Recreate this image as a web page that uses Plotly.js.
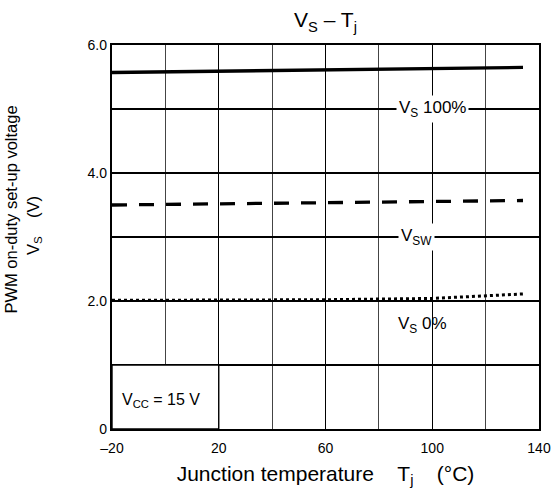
<!DOCTYPE html>
<html><head><meta charset="utf-8">
<script src="https://cdn.plot.ly/plotly-3.0.1.min.js"></script>
<style>body{margin:0;background:#fff;}</style>
</head><body>
<div id="chart" style="width:554px;height:502px;"></div>
<script>
// Data
const tempVs100 = [-20, 0, 20, 60, 100, 134];
const vs100 = [5.57, 5.58, 5.59, 5.61, 5.63, 5.65];
const tempVsw = [-20, 20, 60, 100, 134];
const vsw = [3.50, 3.52, 3.54, 3.56, 3.57];
const tempVs0 = [-20, 20, 60, 100, 120, 134];
const vs0 = [2.01, 2.01, 2.02, 2.04, 2.08, 2.11];
const xTickVals = [-20, 20, 60, 100, 140];
const xTickText = ['–20', '20', '60', '100', '140'];
const xMinorVals = [0, 40, 80, 120];
const yTickVals = [0, 2, 4, 6];
const yTickText = ['0', '2.0', '4.0', '6.0'];
const yMinorVals = [1, 3, 5];

const FONT = 'Liberation Sans, Arial, Helvetica, sans-serif';

const traces = [
  {x: tempVs100, y: vs100, mode: 'lines', line: {color: '#000', width: 3.3}, hoverinfo: 'skip'},
  {x: tempVsw, y: vsw, mode: 'lines', line: {color: '#000', width: 3.3, dash: '15px,12px'}, hoverinfo: 'skip'},
  {x: tempVs0, y: vs0, mode: 'lines', line: {color: '#000', width: 3, dash: '3px,3px'}, hoverinfo: 'skip'}
];

const layout = {
  width: 554, height: 502,
  margin: {l: 112, r: 15, t: 45, b: 73},
  paper_bgcolor: '#fff', plot_bgcolor: '#fff',
  showlegend: false,
  font: {family: FONT, color: '#000', size: 14},
  title: {text: 'V<sub>S</sub> – T<sub>j</sub>', font: {size: 21, family: FONT, color: '#000'},
          x: 0.5, xref: 'paper', y: 1 - 20/502, yref: 'container', yanchor: 'middle'},
  xaxis: {
    range: [-20, 140], tickmode: 'array', tickvals: xTickVals, ticktext: xTickText,
    ticks: 'outside', ticklen: 5, tickcolor: 'rgba(0,0,0,0)',
    showgrid: true, gridcolor: '#000', gridwidth: 1.4, zeroline: false,
    showline: true, linecolor: '#000', linewidth: 2.2, mirror: true,
    minor: {tickmode: 'array', tickvals: xMinorVals, showgrid: true, gridcolor: '#444', gridwidth: 1.1, ticks: ''},
    tickfont: {size: 14},
    title: {text: 'Junction temperature&nbsp;&nbsp;&nbsp;&nbsp;T<sub>j</sub>&nbsp;&nbsp;&nbsp;&nbsp;(°C)', font: {size: 21}, standoff: 11}
  },
  yaxis: {
    range: [0, 6], tickmode: 'array', tickvals: yTickVals, ticktext: yTickText,
    ticks: '', showgrid: true, gridcolor: '#000', gridwidth: 1.3, zeroline: false,
    showline: true, linecolor: '#000', linewidth: 2.2, mirror: true,
    minor: {tickmode: 'array', tickvals: yMinorVals, showgrid: true, gridcolor: '#000', gridwidth: 1.3, ticks: ''},
    tickfont: {size: 14},
    title: {text: '&nbsp;&nbsp;&nbsp;&nbsp;&nbsp;&nbsp;&nbsp;&nbsp;&nbsp;&nbsp;&nbsp;&nbsp;PWM on-duty set-up voltage<br>&nbsp;&nbsp;&nbsp;&nbsp;&nbsp;V<sub>S</sub>&nbsp;&nbsp;&nbsp;&nbsp;(V)',
            font: {size: 16.5, family: FONT}, standoff: 44}
  },
  shapes: [
    {type: 'rect', xref: 'x', yref: 'y', x0: -20, x1: 20, y0: 0, y1: 1,
     fillcolor: '#fff', line: {color: '#000', width: 1.4}, layer: 'between'}
  ],
  annotations: [
    {x: 100, y: 5, xref: 'x', yref: 'y', text: 'V<sub>S</sub> 100%', showarrow: false,
     bgcolor: '#fff', font: {size: 17}, borderpad: 2},
    {x: 94, y: 3, xref: 'x', yref: 'y', text: 'V<sub>SW</sub>', showarrow: false,
     bgcolor: '#fff', font: {size: 17}, borderpad: 2},
    {x: 96.5, y: 1.63, xref: 'x', yref: 'y', text: 'V<sub>S</sub> 0%', showarrow: false,
     font: {size: 17}},
    {x: -1.5, y: 0.45, xref: 'x', yref: 'y', text: 'V<sub>CC</sub> = 15 V', showarrow: false,
     font: {size: 16}}
  ]
};

Plotly.newPlot('chart', traces, layout, {staticPlot: true, displayModeBar: false});
</script>
</body></html>
